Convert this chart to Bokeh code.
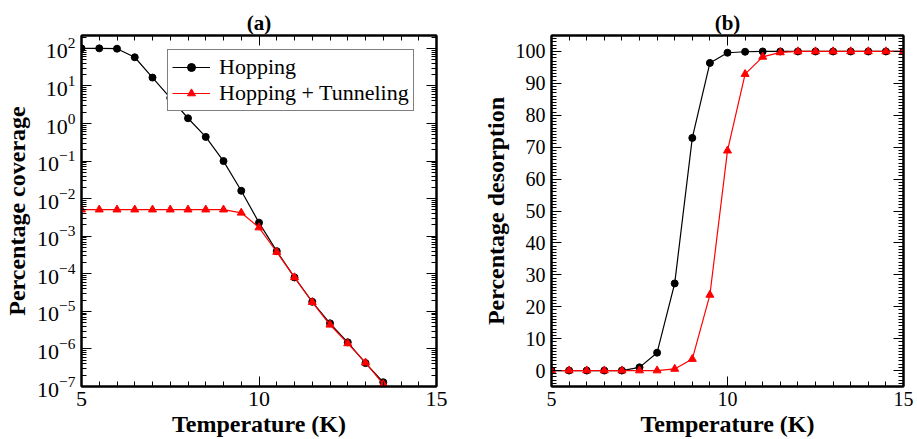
from bokeh.plotting import figure
from bokeh.layouts import row
from bokeh.models import (Range1d, FixedTicker, SingleIntervalTicker, LinearAxis, LogAxis,
                          CustomJSTickFormatter, Legend, LegendItem)
from bokeh.embed import file_html
from bokeh.resources import INLINE

# Temperatures (K)
temp_a = [5, 5.5, 6, 6.5, 7, 7.5, 8, 8.5, 9, 9.5, 10, 10.5, 11, 11.5, 12, 12.5, 13, 13.5]
temp_b = [5, 5.5, 6, 6.5, 7, 7.5, 8, 8.5, 9, 9.5, 10, 10.5, 11, 11.5, 12, 12.5, 13, 13.5,
          14, 14.5, 15]

# (a) percentage coverage
cov_hopping = [100, 100, 98, 58, 16.7, 4.8, 1.38, 0.44, 0.10, 0.0162, 2.3e-3, 4.0e-4,
               8.0e-5, 1.8e-5, 4.8e-6, 1.5e-6, 4.2e-7, 1.3e-7]
cov_tunneling = [5.1e-3, 5.1e-3, 5.1e-3, 5.1e-3, 5.1e-3, 5.1e-3, 5.1e-3, 5.1e-3, 5.1e-3,
                 4.2e-3, 1.7e-3, 3.8e-4, 8.0e-5, 1.75e-5, 4.4e-6, 1.4e-6, 4.3e-7, 1.15e-7]

# (b) percentage desorption
des_hopping = [0, 0, 0, 0, 0, 1.0, 5.6, 27.3, 72.9, 96.4, 99.6, 99.9, 100, 100, 100, 100,
               100, 100, 100, 100, 100]
des_tunneling = [0, 0, 0, 0, 0, 0, 0, 0.5, 3.6, 23.7, 68.9, 92.9, 98.3, 99.7, 100, 100,
                 100, 100, 100, 100, 100]

log_major_exponents = list(range(-7, 3))
log_minor_mantissas = [2, 3, 4, 5, 6, 7, 8, 9]

SERIF = "Liberation Serif"
BLACK = "#000000"
RED = "#ff0000"


def style_axis(ax, label_size, minor_len=5, major_len=10):
    ax.axis_line_width = 2
    ax.axis_line_color = BLACK
    ax.major_tick_in = major_len
    ax.major_tick_out = 0
    ax.minor_tick_in = minor_len
    ax.minor_tick_out = 0
    ax.major_tick_line_width = 1
    ax.minor_tick_line_width = 1
    ax.major_tick_line_color = BLACK
    ax.minor_tick_line_color = BLACK
    ax.major_label_text_font = SERIF
    ax.major_label_text_font_size = label_size
    ax.major_label_text_line_height = 0.9
    ax.major_label_text_color = BLACK
    ax.axis_label_text_font = SERIF
    ax.axis_label_text_font_size = "24px"
    ax.axis_label_text_font_style = "bold"
    ax.axis_label_text_line_height = 0.9
    ax.axis_label_text_color = BLACK


def blank_axis(ax):
    ax.formatter = CustomJSTickFormatter(code="return ''")
    ax.major_label_text_font_size = "1px"
    ax.major_label_standoff = 0


def make_panel(title, width, border_left, border_right, border_top, ylabel, label_size,
               log_y):
    kw = dict(width=width, height=439, output_backend="svg", toolbar_location=None,
              x_range=Range1d(5, 15), min_border_left=border_left,
              min_border_right=border_right, min_border_top=border_top,
              min_border_bottom=52, x_axis_location=None, y_axis_location=None,
              title=title)
    if log_y:
        p = figure(y_axis_type="log", y_range=Range1d(1e-7, 2.2e2), **kw)
    else:
        p = figure(y_range=Range1d(-5, 105), **kw)
    p.title.align = "center"
    p.title.text_font = SERIF
    p.title.text_font_size = "21px"
    p.title.text_font_style = "bold"
    p.title.text_color = BLACK
    p.title.standoff = 1
    p.outline_line_color = BLACK
    p.outline_line_width = 2
    p.xgrid.visible = False
    p.ygrid.visible = False
    p.background_fill_color = "white"
    p.border_fill_color = "white"

    xticker = SingleIntervalTicker(interval=5, num_minor_ticks=10)
    if log_y:
        majors = [10.0 ** e for e in log_major_exponents]
        minors = [m * 10.0 ** e for e in log_major_exponents for m in log_minor_mantissas]
        yticker = FixedTicker(ticks=majors, minor_ticks=minors)
        AxisY = LogAxis
    else:
        yticker = SingleIntervalTicker(interval=10, num_minor_ticks=10)
        AxisY = LinearAxis

    bottom = LinearAxis(ticker=xticker, axis_label="Temperature (K)")
    style_axis(bottom, label_size)
    bottom.major_label_standoff = 5
    bottom.axis_label_standoff = 2
    p.add_layout(bottom, "below")

    top = LinearAxis(ticker=xticker)
    style_axis(top, label_size)
    blank_axis(top)
    p.add_layout(top, "above")

    left = AxisY(ticker=yticker, axis_label=ylabel)
    style_axis(left, label_size)
    left.major_label_standoff = 6
    left.axis_label_standoff = 4
    p.add_layout(left, "left")

    right = AxisY(ticker=yticker)
    style_axis(right, label_size)
    blank_axis(right)
    p.add_layout(right, "right")
    return p


# ---- (a) coverage vs temperature ----
pa = make_panel("(a)", 458, 81, 22, 34, "Percentage coverage", "22px", True)
la1 = pa.line(temp_a, cov_hopping, line_color=BLACK, line_width=1.2)
sa1 = pa.scatter(temp_a, cov_hopping, marker="circle", size=7, fill_color=BLACK,
                 line_color=BLACK)
la2 = pa.line(temp_a, cov_tunneling, line_color=RED, line_width=1.2)
sa2 = pa.scatter(temp_a, cov_tunneling, marker="triangle", size=8, fill_color=RED,
                 line_color=RED)

legend = Legend(items=[LegendItem(label="Hopping", renderers=[la1, sa1]),
                       LegendItem(label="Hopping + Tunneling", renderers=[la2, sa2])],
                location=(86, 275))
legend.label_text_font = SERIF
legend.label_text_font_size = "22px"
legend.label_text_line_height = 0.9
legend.label_text_color = BLACK
legend.border_line_color = BLACK
legend.border_line_width = 1.5
legend.background_fill_alpha = 1
legend.glyph_width = 38
legend.glyph_height = 20
legend.label_height = 20
legend.label_standoff = 9
legend.padding = 4
legend.spacing = 0
legend.margin = 0
pa.add_layout(legend)

# ---- (b) desorption vs temperature ----
pb = make_panel("(b)", 459, 93, 14, 35, "Percentage desorption", "20px", False)
pb.line(temp_b, des_hopping, line_color=BLACK, line_width=1.2)
pb.scatter(temp_b, des_hopping, marker="circle", size=7, fill_color=BLACK, line_color=BLACK)
pb.line(temp_b, des_tunneling, line_color=RED, line_width=1.2)
pb.scatter(temp_b, des_tunneling, marker="triangle", size=8, fill_color=RED, line_color=RED)

layout = row(pa, pb)
open("out.html", "w").write(file_html(layout, INLINE))
